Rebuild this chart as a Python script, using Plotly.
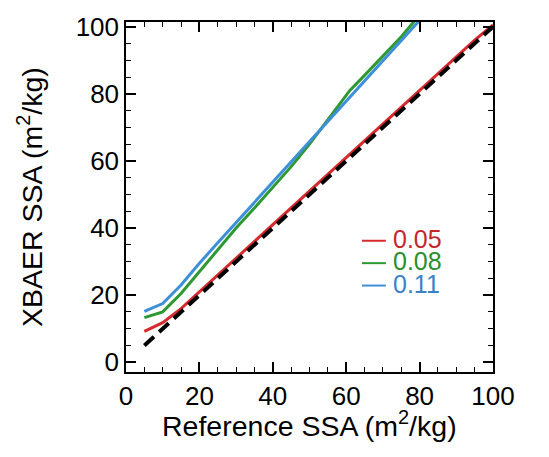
import plotly.graph_objects as go

# Reference SSA (x) and XBAER SSA (y) for three settings
x_red = [5, 10, 15, 20, 25, 30, 35, 40, 45, 50, 55, 60, 65, 70, 75, 80, 85, 90, 95, 100]
y_red = [9.2, 11.8, 16, 21, 26, 31, 36, 41, 46, 51, 56, 61, 66, 71, 76, 81, 86, 91, 96, 100.5]

x_green = [5, 10, 15, 20, 25, 30, 35, 40, 45, 50, 55, 61, 65, 70, 75, 80, 85]
y_green = [13.3, 15, 20.5, 27, 33.5, 40, 46, 52, 58.3, 65, 72.2, 81, 85.5, 91.2, 97, 103.5, 110]

x_blue = [5, 10, 15, 20, 25, 30, 35, 40, 45, 50, 55, 60, 65, 70, 75, 80, 85]
y_blue = [15.2, 17.5, 23, 29.5, 35.6, 41.6, 47.6, 53.6, 59.6, 65.7, 71.8, 77.8, 83.8, 89.8, 95.8, 101.9, 108]

x_one = [5, 100]
y_one = [5, 100]

labels = ["0.05", "0.08", "0.11"]
colors = ["#d62a2e", "#2e9933", "#3d8fd8"]
text_colors = ["#c4262b", "#2a8e2f", "#3a82c8"]

x_title = "Reference SSA (m<sup>2</sup>/kg)"
y_title = "XBAER SSA (m<sup>2</sup>/kg)"

fig = go.Figure()
for xs, ys, c, n in [(x_red, y_red, colors[0], labels[0]),
                     (x_green, y_green, colors[1], labels[1]),
                     (x_blue, y_blue, colors[2], labels[2])]:
    fig.add_trace(go.Scatter(x=xs, y=ys, mode="lines", name=n,
                             line=dict(color=c, width=3), showlegend=False))
fig.add_trace(go.Scatter(x=x_one, y=y_one, mode="lines",
                         line=dict(color="black", width=4, dash="13px,7px"),
                         showlegend=False))

# legend drawn as short lines + coloured labels
ly = [0.375, 0.311, 0.247]
for lab, c, tc, yy in zip(labels, colors, text_colors, ly):
    fig.add_shape(type="line", xref="paper", yref="paper",
                  x0=0.643, x1=0.708, y0=yy, y1=yy,
                  line=dict(color=c, width=2))
    fig.add_annotation(xref="paper", yref="paper", x=0.722, y=yy, yshift=2,
                       text=lab, showarrow=False, xanchor="left", yanchor="middle",
                       font=dict(size=25, color=tc, family="Liberation Sans"))

title_font = dict(size=28.5, color="black", family="Liberation Sans")
# axis titles
fig.add_annotation(xref="paper", yref="paper", x=0.5, y=0, yshift=-52,
                   text=x_title, showarrow=False, xanchor="center", yanchor="middle",
                   font=title_font)
fig.add_annotation(xref="paper", yref="paper", x=0, y=0.5, xshift=-96,
                   text=y_title, showarrow=False, xanchor="center", yanchor="middle",
                   textangle=-90, font=title_font)

axis_common = dict(
    showgrid=False, zeroline=False, showline=True, linecolor="black", linewidth=1.5,
    mirror="ticks", ticks="inside", ticklen=10, tickwidth=1.5, tickcolor="black",
    dtick=20, tick0=0,
    minor=dict(ticks="inside", ticklen=5, tickwidth=1.2, tickcolor="black", dtick=5),
    tickfont=dict(size=26, color="black", family="Liberation Sans"),
)

fig.update_xaxes(range=[0, 100], **axis_common)
fig.update_yaxes(range=[-2.9, 101.4], **axis_common)

fig.update_layout(width=549, height=457, plot_bgcolor="white", paper_bgcolor="white",
                  margin=dict(l=126, r=56, t=12, b=85), showlegend=False)

fig.write_html("out.html")
